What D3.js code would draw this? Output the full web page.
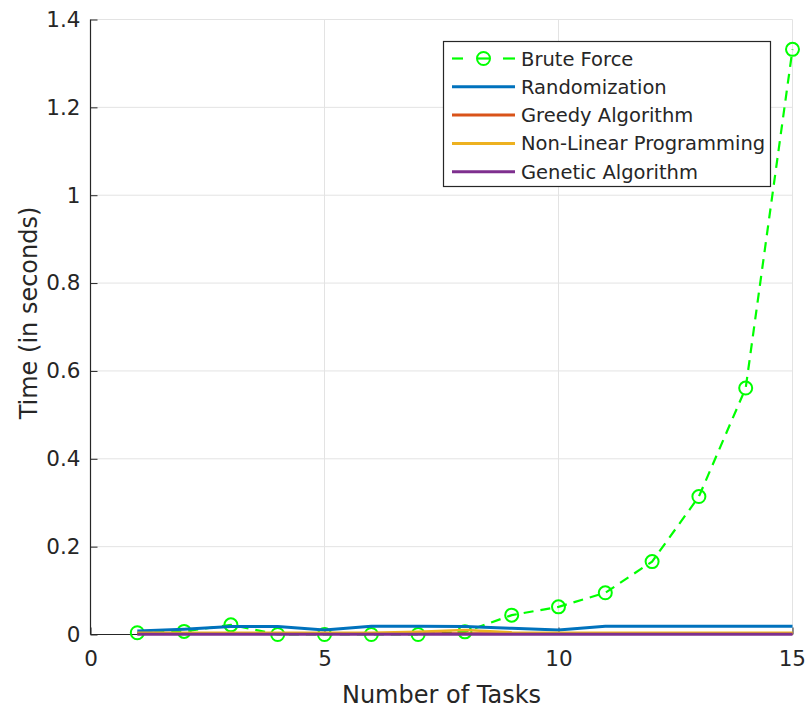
<!DOCTYPE html>
<html>
<head>
<meta charset="utf-8">
<script src="https://cdn.jsdelivr.net/npm/d3@7"></script>
<style>
  html, body { margin: 0; padding: 0; background: #fff; }
  svg { display: block; font-family: "DejaVu Sans", sans-serif; }
</style>
</head>
<body>
<svg id="chart" width="805" height="711"></svg>
<script>
// Run time of each scheduling approach for 1..15 tasks
const tasks = [1, 2, 3, 4, 5, 6, 7, 8, 9, 10, 11, 12, 13, 14, 15];
const bruteForce    = [0.004, 0.007, 0.022, 0.000, 0.000, 0.000, 0.000, 0.006, 0.044, 0.063, 0.095, 0.166, 0.314, 0.561, 1.332];
const randomization = [0.008, 0.012, 0.018, 0.018, 0.010, 0.019, 0.019, 0.018, 0.014, 0.010, 0.019, 0.019, 0.019, 0.019, 0.019];
const greedy        = [0.002, 0.002, 0.002, 0.002, 0.002, 0.002, 0.002, 0.002, 0.002, 0.002, 0.002, 0.002, 0.002, 0.002, 0.002];
const nonLinear     = [0.004, 0.004, 0.004, 0.004, 0.004, 0.004, 0.006, 0.010, 0.005, 0.004, 0.004, 0.004, 0.004, 0.004, 0.004];
const genetic       = [0.0005, 0.0005, 0.0005, 0.0005, 0.0005, 0.0005, 0.0005, 0.0005, 0.0005, 0.0005, 0.0005, 0.0005, 0.0005, 0.0005, 0.0005];

const xTicks = [0, 5, 10, 15];
const yTicks = [0, 0.2, 0.4, 0.6, 0.8, 1, 1.2, 1.4];

const series = [
  { name: "Brute Force", values: bruteForce, color: "#00ff00", width: 2.2, dash: "10,7", marker: true },
  { name: "Randomization", values: randomization, color: "#0072BD", width: 3 },
  { name: "Greedy Algorithm", values: greedy, color: "#D95319", width: 2.5 },
  { name: "Non-Linear Programming", values: nonLinear, color: "#EDB120", width: 2.5 },
  { name: "Genetic Algorithm", values: genetic, color: "#7E2F8E", width: 3 }
];

const svg = d3.select("#chart");
const ink = "#262626";

const x = d3.scaleLinear().domain([0, 15]).range([90.5, 792.5]);
const y = d3.scaleLinear().domain([0, 1.4]).range([634.5, 19.5]);

// grid
const grid = svg.append("g");
grid.selectAll("line.v").data(xTicks.filter(d => d > 0)).join("line")
  .attr("x1", d => x(d)).attr("x2", d => x(d))
  .attr("y1", y(0)).attr("y2", y(1.4))
  .attr("stroke", "#e3e3e3").attr("stroke-width", 1);
grid.selectAll("line.h").data(yTicks.filter(d => d > 0)).join("line")
  .attr("x1", x(0)).attr("x2", x(15))
  .attr("y1", d => y(d)).attr("y2", d => y(d))
  .attr("stroke", "#e3e3e3").attr("stroke-width", 1);

// axes (ticks point inward)
const xAxis = d3.axisBottom(x).tickValues(xTicks).tickSize(-7).tickPadding(16)
  .tickFormat(d3.format("d"));
const yAxis = d3.axisLeft(y).tickValues(yTicks).tickSize(-7).tickPadding(10)
  .tickFormat(d => String(d));

const gx = svg.append("g").attr("transform", `translate(0,${y(0)})`).call(xAxis);
const gy = svg.append("g").attr("transform", `translate(${x(0)},0)`).call(yAxis);
[gx, gy].forEach(g => {
  g.select(".domain").attr("stroke", ink).attr("stroke-width", 1.2);
  g.selectAll(".tick line").attr("stroke", ink);
  g.selectAll(".tick text").attr("fill", ink)
    .style("font-family", "DejaVu Sans, sans-serif").style("font-size", "21.5px");
});
gx.selectAll(".tick text").attr("dy", "0.71em");
// keep the last label inside the page edge
gx.selectAll(".tick text").filter(d => d === 15).attr("text-anchor", "end").attr("x", 13);
gx.select(".domain").attr("d", `M${x(0)},0H${x(15)}`);
gy.select(".domain").attr("d", `M0,${y(0)}V${y(1.4)}`);

// axis titles
svg.append("text")
  .attr("x", (x(0) + x(15)) / 2).attr("y", 703)
  .attr("text-anchor", "middle").attr("fill", ink)
  .style("font-size", "24px").text("Number of Tasks");
svg.append("text")
  .attr("transform", `translate(37,313) rotate(-90)`)
  .attr("text-anchor", "middle").attr("fill", ink)
  .style("font-size", "24px").text("Time (in seconds)");

// lines
const line = d3.line().x((d, i) => x(tasks[i])).y(d => y(d));
const plot = svg.append("g");
series.forEach(s => {
  plot.append("path")
    .attr("d", line(s.values))
    .attr("fill", "none")
    .attr("stroke", s.color)
    .attr("stroke-width", s.width)
    .attr("stroke-dasharray", s.dash || null);
  if (s.marker) {
    plot.selectAll(null).data(s.values).join("circle")
      .attr("cx", (d, i) => x(tasks[i])).attr("cy", d => y(d))
      .attr("r", 6.5)
      .attr("fill", "none").attr("stroke", s.color).attr("stroke-width", 2);
  }
});

// legend
const lg = svg.append("g");
lg.append("rect")
  .attr("x", 443.5).attr("y", 41.5).attr("width", 327).attr("height", 145)
  .attr("fill", "#fff").attr("stroke", ink).attr("stroke-width", 1.2);
series.forEach((s, i) => {
  const cy = 58.5 + i * 28.3;
  if (s.marker) {
    lg.append("line").attr("x1", 452).attr("x2", 463).attr("y1", cy).attr("y2", cy)
      .attr("stroke", s.color).attr("stroke-width", s.width);
    lg.append("line").attr("x1", 503).attr("x2", 515).attr("y1", cy).attr("y2", cy)
      .attr("stroke", s.color).attr("stroke-width", s.width);
    lg.append("circle").attr("cx", 483.5).attr("cy", cy).attr("r", 6.5)
      .attr("fill", "none").attr("stroke", s.color).attr("stroke-width", 2);
    lg.append("line").attr("x1", 477).attr("x2", 490).attr("y1", cy).attr("y2", cy)
      .attr("stroke", s.color).attr("stroke-width", s.width);
  } else {
    lg.append("line").attr("x1", 452).attr("x2", 515).attr("y1", cy).attr("y2", cy)
      .attr("stroke", s.color).attr("stroke-width", 3);
  }
  lg.append("text").attr("x", 521).attr("y", cy + 7)
    .attr("fill", ink).style("font-size", "19.5px").text(s.name);
});
</script>
</body>
</html>
